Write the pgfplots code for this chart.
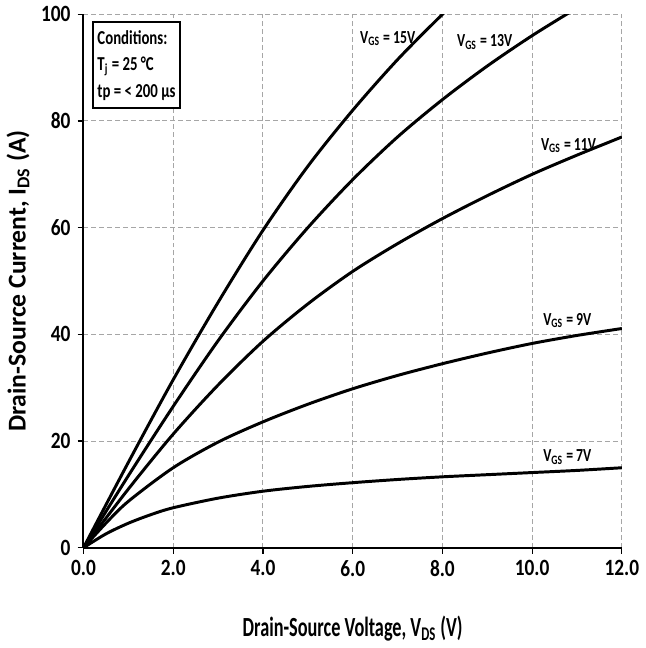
\documentclass[border=0pt]{standalone}
\usepackage{fontspec}
\setmainfont{Carlito}
\newfontfamily\tickfont{Carlito}[FakeStretch=0.83]
\newfontfamily\xlabfont{Carlito}[FakeStretch=0.66]
\newfontfamily\annfont{Carlito}[FakeStretch=0.75]
\usepackage{pgfplots}
\pgfplotsset{compat=1.18}
\pgfplotsset{curve/.style={black, line width=1.5pt, mark=none, smooth}}
\begin{document}
\begin{tikzpicture}
\begin{axis}[
  width=272.5pt, height=270pt, scale only axis,
  xmin=0, xmax=12, ymin=0, ymax=100,
  xtick={0,2,...,12}, ytick={0,20,...,100},
  grid=major,
  grid style={gray!70, dash pattern=on 2.5pt off 1.5pt, line width=0.5pt},
  axis x line*=bottom, axis y line*=left,
  axis line style={line width=1pt, -},
  tick align=outside, major tick length=3pt,
  tick style={black, line width=0.6pt},
  /pgf/number format/assume math mode=true,
  x tick label style={/pgf/number format/.cd, fixed, fixed zerofill, precision=1, /tikz/.cd},
  tick label style={font=\tickfont\bfseries\fontsize{11.8}{12}\selectfont},
  xlabel={Drain-Source Voltage, V\textsubscript{DS} (V)},
  xlabel style={font=\xlabfont\bfseries\fontsize{14}{14}\selectfont, yshift=-13pt},
  ylabel={Drain-Source Current, I\textsubscript{DS} (A)},
  ylabel style={font=\bfseries\fontsize{13}{13}\selectfont, yshift=-1pt},
]
% VGS = 15V
\addplot[curve] coordinates {(0,0) (1,16) (2,31.5) (3,46) (4,59.5) (5,71.5) (6,82) (7,91.5) (8,100) (8.5,104)};
% VGS = 13V
\addplot[curve] coordinates {(0,0) (1,13.5) (2,26.5) (3,38.8) (4,50) (5,60) (6,69) (7,77) (8,84) (9,90.3) (10,96) (11,101.2)};
% VGS = 11V
\addplot[curve] coordinates {(0,0) (1,11) (2,21.3) (3,30.5) (4,38.7) (5,45.7) (6,51.8) (7,57) (8,61.7) (9,66) (10,70) (11,73.6) (12,77)};
% VGS = 9V
\addplot[curve] coordinates {(0,0) (0.5,4.6) (1,8.7) (2,15) (3,19.8) (4,23.6) (5,26.9) (6,29.8) (7,32.3) (8,34.5) (9,36.5) (10,38.3) (11,39.8) (12,41.1)};
% VGS = 7V
\addplot[curve] coordinates {(0,0) (0.5,2.6) (1,4.6) (1.5,6.2) (2,7.5) (3,9.3) (4,10.6) (5,11.5) (6,12.2) (7,12.8) (8,13.3) (9,13.7) (10,14.1) (11,14.5) (12,15)};

\begin{scope}[every node/.style={anchor=west, inner sep=0pt, font=\annfont\bfseries\fontsize{9.3}{10}\selectfont}]
\node at (axis cs:6.16,95.4) {V\textsubscript{GS} = 15V};
\node at (axis cs:8.32,94.8) {V\textsubscript{GS} = 13V};
\node at (axis cs:10.19,75.4) {V\textsubscript{GS} = 11V};
\node at (axis cs:10.24,42.6) {V\textsubscript{GS} = 9V};
\node at (axis cs:10.24,17.0) {V\textsubscript{GS} = 7V};
\end{scope}
\node[anchor=north west, draw, fill=white, line width=1pt, inner xsep=2.5pt, inner ysep=4pt, align=left,
      font=\annfont\bfseries\fontsize{10}{13.5}\selectfont]
  at (axis cs:0.18,98.7) {Conditions:\\T\textsubscript{j} = 25 °C\\tp = < 200 µs};
\end{axis}
\end{tikzpicture}
\end{document}
